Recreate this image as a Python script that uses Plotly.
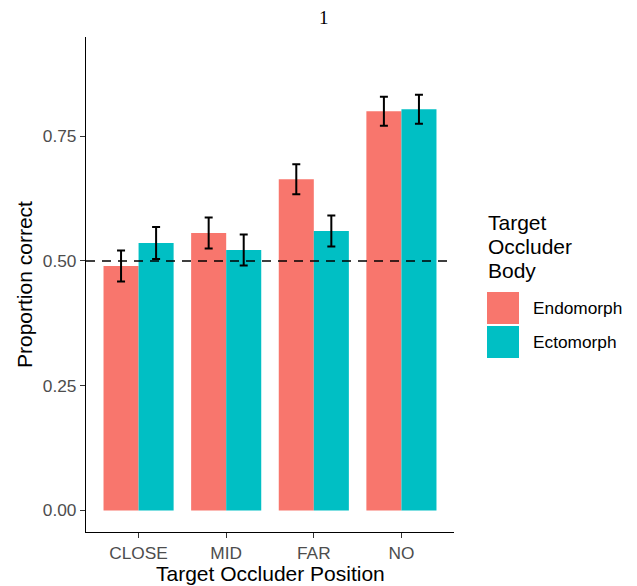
import plotly.graph_objects as go

positions = ["CLOSE", "MID", "FAR", "NO"]
series_names = ["Endomorph", "Ectomorph"]
endo_vals = [0.490, 0.556, 0.664, 0.800]
endo_err = [0.031, 0.031, 0.030, 0.029]
ecto_vals = [0.536, 0.522, 0.560, 0.804]
ecto_err = [0.032, 0.031, 0.031, 0.029]
y_ticks = [0.0, 0.25, 0.5, 0.75]
y_tick_labels = ["0.00", "0.25", "0.50", "0.75"]
chance = 0.5

colors = ["#F8766D", "#00BFC4"]

# page has an 8px body margin; compensate so the picture lines up with the window
OFF = 8
W, H = 637 - OFF, 586 - OFF
L_page, R_page, T_page, B_page = 86, 183, 37, 54
L, R, T, B = L_page - OFF, R_page, T_page - OFF, B_page
pw, ph = W - L - R, H - T - B


def px(x):  # page pixel x -> paper
    return (x - OFF - L) / pw


def py(y):  # page pixel y -> paper
    return (H - B - (y - OFF)) / ph


fig = go.Figure()
for name, vals, errs, col in zip(series_names, [endo_vals, ecto_vals], [endo_err, ecto_err], colors):
    fig.add_trace(go.Bar(
        x=positions, y=vals, name=name, marker=dict(color=col, line=dict(width=0)),
        error_y=dict(type="data", array=errs, visible=True, color="black", thickness=2, width=4),
        showlegend=False,
    ))

# chance line
fig.add_shape(type="line", xref="paper", yref="y", x0=0, x1=1, y0=chance, y1=chance,
              line=dict(color="black", width=1.6, dash="9px,7px"), layer="above")

font = "Liberation Sans, Arial, sans-serif"
TITLE_SIZE = 21
TICK_SIZE = 17.3

# custom legend
for txt, ytop in zip(["Target", "Occluder", "Body"], [209, 233, 257]):
    fig.add_annotation(xref="paper", yref="paper", x=px(486), y=py(ytop), xanchor="left", yanchor="top",
                       text=txt, showarrow=False, font=dict(size=TITLE_SIZE, color="black", family=font))
key_tops = [292, 326]
for name, col, kt in zip(series_names, colors, key_tops):
    fig.add_shape(type="rect", xref="paper", yref="paper", x0=px(487), x1=px(519),
                  y0=py(kt + 32), y1=py(kt), fillcolor=col, line=dict(width=0))
    fig.add_annotation(xref="paper", yref="paper", x=px(531), y=py(kt + 16), xanchor="left",
                       yanchor="middle", text=name, showarrow=False,
                       font=dict(size=TICK_SIZE, color="black", family=font))

# axis titles
fig.add_annotation(xref="paper", yref="paper", x=px(24), y=py(285), xanchor="center", yanchor="middle",
                   text="Proportion correct", textangle=-90, showarrow=False,
                   font=dict(size=TITLE_SIZE, color="black", family=font))
fig.add_annotation(xref="paper", yref="paper", x=px(270), y=py(573), xanchor="center", yanchor="middle",
                   text="Target Occluder Position", showarrow=False,
                   font=dict(size=TITLE_SIZE, color="black", family=font))
# title
fig.add_annotation(xref="paper", yref="paper", x=px(324), y=py(18), xanchor="center", yanchor="middle",
                   text="1", showarrow=False,
                   font=dict(size=19, color="black", family="Liberation Serif, Times New Roman, serif"))

fig.update_layout(
    width=W, height=H,
    margin=dict(l=L, r=R, t=T, b=B, pad=0),
    paper_bgcolor="white", plot_bgcolor="white",
    barmode="group", bargap=0.2, bargroupgap=0,
    font=dict(family=font),
    xaxis=dict(range=[-0.6, 3.6], showline=True, linecolor="black", linewidth=1.2,
               ticks="outside", ticklen=5, tickcolor="#333333", tickwidth=1.1,
               tickfont=dict(size=TICK_SIZE, color="#4D4D4D"), showgrid=False, zeroline=False),
    yaxis=dict(range=[-0.0433, 0.949], showline=True, linecolor="black", linewidth=1.2,
               ticks="outside", ticklen=5, tickcolor="#333333", tickwidth=1.1,
               tickvals=y_ticks, ticktext=y_tick_labels,
               tickfont=dict(size=TICK_SIZE, color="#4D4D4D"), showgrid=False, zeroline=False),
)

fig.write_html("out.html")
